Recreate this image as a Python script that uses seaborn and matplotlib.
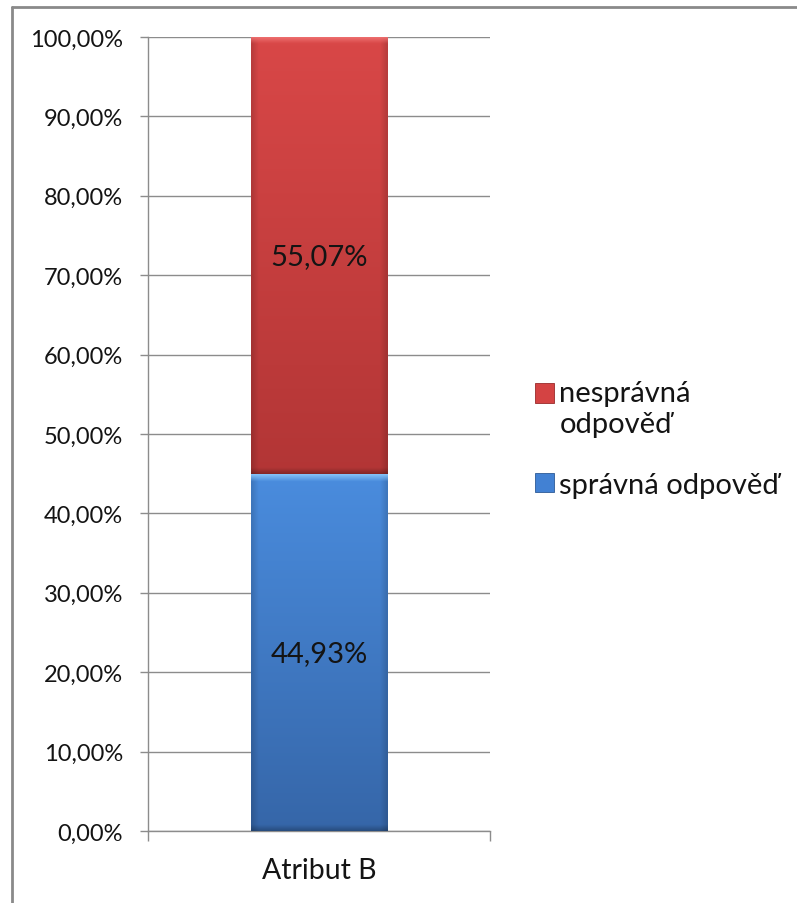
import numpy as np
import pandas as pd
import matplotlib
matplotlib.use("Agg")
import matplotlib.pyplot as plt
from matplotlib.patches import Patch
from matplotlib.lines import Line2D
import seaborn as sns

categories = ["Atribut B"]
correct = [44.93]      # správná odpověď
incorrect = [55.07]    # nesprávná odpověď
series_names = ["nesprávná\nodpověď", "správná odpověď"]
yticks = [0, 10, 20, 30, 40, 50, 60, 70, 80, 90, 100]

sns.set_theme(style="white")
plt.rcParams["font.family"] = ["Lato", "DejaVu Sans"]

RED = "#D44343"
BLUE = "#4281D3"
GRID = "#8C8C8C"
TEXT = "#141414"

df = pd.DataFrame({
    "category": categories,
    "correct": correct,
    "total": [c + i for c, i in zip(correct, incorrect)],
})

fig = plt.figure(figsize=(7.97, 9.04), dpi=100)
ax = fig.add_axes([148 / 797, 1 - 832 / 904, (490 - 148) / 797, (832 - 38) / 904])

# stacked column: full height in red, lower part overdrawn in blue
sns.barplot(data=df, x="category", y="total", color=RED, width=0.40,
            saturation=1, ax=ax, zorder=2, linewidth=0)
sns.barplot(data=df, x="category", y="correct", color=BLUE, width=0.40,
            saturation=1, ax=ax, zorder=3, linewidth=0)


def shade(patch, top_rgb, bottom_rgb, rim_rgb, z):
    """Fill a bar segment with a vertical gradient, darker sides and a light top bevel."""
    x0, y0 = patch.get_x(), patch.get_y()
    w, h = patch.get_width(), patch.get_height()
    n = 400
    t = np.linspace(0, 1, n)[:, None]
    img = (1 - t) * np.array(top_rgb) + t * np.array(bottom_rgb)
    img = np.repeat(img[:, None, :], 60, axis=1)
    s = np.linspace(0, 1, 60)
    edge = np.clip(np.minimum(s, 1 - s) / 0.05, 0, 1)[None, :, None]
    img = img * (0.86 + 0.14 * edge)
    px = h * 794 / 100  # segment height in pixels
    rows = np.linspace(0, px, n)
    bevel = np.clip(1 - rows / 7, 0, 1)[:, None, None]
    img = img * (1 - bevel) + np.array(rim_rgb) * bevel
    low = np.clip(1 - (px - rows) / 6, 0, 1)[:, None, None] * 0.25
    img = img * (1 - low)
    im = ax.imshow(np.clip(img, 0, 1), extent=[x0, x0 + w, y0, y0 + h],
                   origin="upper", aspect="auto", zorder=z, interpolation="bilinear")
    im.set_clip_path(patch)


red_patch, blue_patch = ax.patches[0], ax.patches[1]
red_patch.set_height(incorrect[0])
red_patch.set_y(correct[0])
shade(red_patch, (0.85, 0.28, 0.28), (0.70, 0.21, 0.21), (0.94, 0.45, 0.45), 2.5)
shade(blue_patch, (0.29, 0.55, 0.87), (0.21, 0.40, 0.66), (0.52, 0.76, 0.97), 3.5)

ax.set_xlim(-0.5, 0.5)
ax.set_ylim(0, 100)
ax.set_yticks(yticks)
ax.set_yticklabels([f"{v:.2f}%".replace(".", ",") for v in yticks])
ax.set_xticks([0])
ax.set_xticklabels(categories)
ax.set_xticks([-0.5, 0.5], minor=True)
ax.set_xlabel("")
ax.set_ylabel("")

ax.tick_params(axis="y", which="major", length=6, width=1, color=GRID,
               labelsize=17, labelcolor=TEXT, pad=12, left=True)
ax.tick_params(axis="x", which="major", length=0, labelsize=20.5,
               labelcolor=TEXT, pad=19, bottom=True)
ax.tick_params(axis="x", which="minor", length=7, width=1, color=GRID, bottom=True)

ax.grid(axis="y", color=GRID, linewidth=1, zorder=0)
ax.set_axisbelow(True)
for side in ["top", "right"]:
    ax.spines[side].set_visible(False)
for side in ["left", "bottom"]:
    ax.spines[side].set_color(GRID)
    ax.spines[side].set_linewidth(1)

# value labels centred in each segment
ax.text(0, correct[0] / 2, f"{correct[0]:.2f}%".replace(".", ","),
        ha="center", va="center", fontsize=21, color=TEXT, zorder=5)
ax.text(0, correct[0] + incorrect[0] / 2, f"{incorrect[0]:.2f}%".replace(".", ","),
        ha="center", va="center", fontsize=21, color=TEXT, zorder=5)

handles = [Patch(facecolor=RED, edgecolor="#9a2a2a", linewidth=0.6),
           Patch(facecolor=BLUE, edgecolor="#2d5a96", linewidth=0.6)]
leg = fig.legend(handles, series_names, loc="center left",
                 bbox_to_anchor=(523 / 797, 1 - 440 / 904), frameon=False,
                 fontsize=21, handlelength=0.65, handleheight=0.65,
                 handletextpad=0.2, labelspacing=1.2, borderaxespad=0,
                 labelcolor=TEXT)
# put the first marker level with the first line of its two-line label
h0 = leg.legend_handles[0]
h0.set_y(h0.get_y() + 11.5)

# outer chart frame (top and left edges)
fig.add_artist(Line2D([12 / 797, 1], [1 - 8 / 904, 1 - 8 / 904],
                      transform=fig.transFigure, color="#8a8a8a", linewidth=2))
fig.add_artist(Line2D([12 / 797, 12 / 797], [0, 1 - 8 / 904],
                      transform=fig.transFigure, color="#8a8a8a", linewidth=2))

fig.savefig("out.png", dpi=100)
